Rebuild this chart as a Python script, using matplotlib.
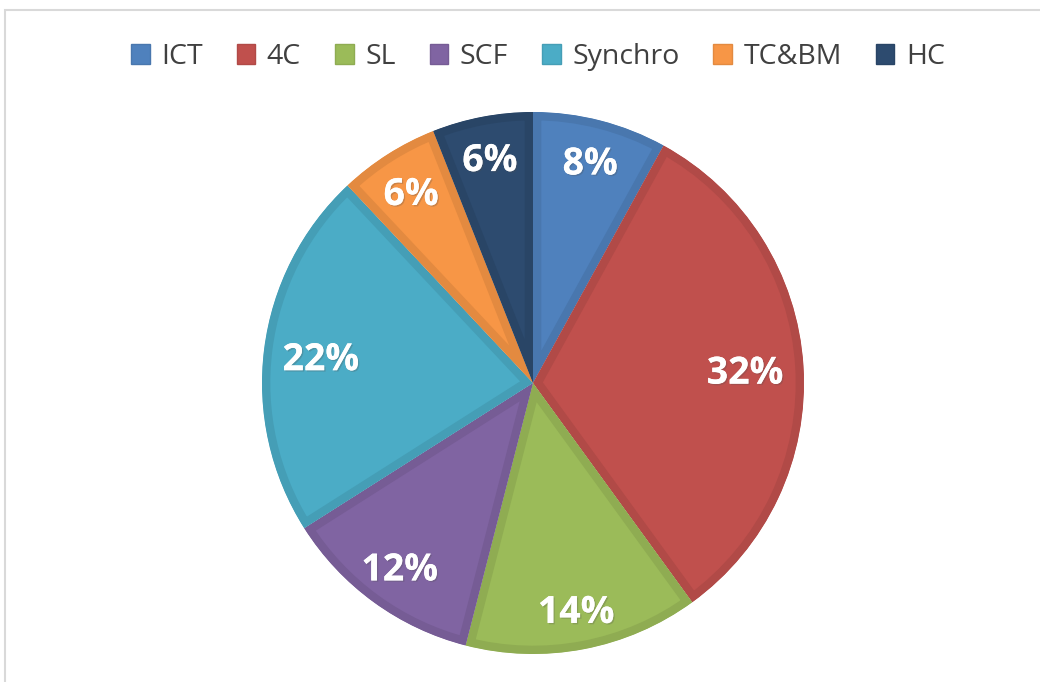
import numpy as np
import matplotlib
matplotlib.use("Agg")
import matplotlib.pyplot as plt
import matplotlib.colors as mcolors
import matplotlib.patches as mpatches
import matplotlib.patheffects as pe
import matplotlib.transforms as mtransforms

# ── Data ─────────────────────────────────────────────────────────────────────
categories = ["ICT", "4C", "SL", "SCF", "Synchro", "TC&BM", "HC"]
shares     = [8, 32, 14, 12, 22, 6, 6]
colors     = ["#4F81BD", "#C0504D", "#9BBB59", "#8064A2",
              "#4BACC6", "#F79646", "#2D4B6F"]


def darker(c, f=0.92):
    r, g, b = mcolors.to_rgb(c)
    return (r * f, g * f, b * f)


W, H, DPI = 1040, 682, 100
fig = plt.figure(figsize=(W / DPI, H / DPI), dpi=DPI)
fig.patch.set_facecolor("white")

# chart frame (light grey, runs off right/bottom)
frame = mpatches.Rectangle((5 / W, -0.1), 1.2, (H - 10) / H + 0.1,
                           transform=fig.transFigure, fill=False,
                           edgecolor="#D9D9D9", linewidth=1.5)
fig.patches.append(frame)

# ── Pie ──────────────────────────────────────────────────────────────────────
cx, cy, R = 533, 383, 271
ax = fig.add_axes([(cx - R) / W, (H - cy - R) / H, 2 * R / W, 2 * R / H])
wedges, _, autotexts = ax.pie(
    shares, colors=colors, startangle=90, counterclock=False,
    radius=1.0, autopct="%d%%", pctdistance=0.81,
    wedgeprops=dict(linewidth=12),
    textprops=dict(color="white", fontsize=27, fontweight="bold",
                   family=["Open Sans", "DejaVu Sans"]))
for w, c in zip(wedges, colors):
    w.set_edgecolor(darker(c))
    w.set_clip_path(w)
    w.set_clip_on(True)

# Excel-style "best fit": labels near top/bottom sit a bit further out
shift = mtransforms.offset_copy(ax.transData, fig=fig, x=0, y=-4, units="dots")
for w, t in zip(wedges, autotexts):
    mid = np.deg2rad((w.theta1 + w.theta2) / 2)
    r_lab = 0.78 + 0.07 * abs(np.sin(mid))
    t.set_position((r_lab * np.cos(mid), r_lab * np.sin(mid)))
    t.set_transform(shift)
    t.set_path_effects([pe.withSimplePatchShadow(offset=(1, -1), alpha=0.25),
                        pe.Normal()])
ax.set_xlim(-1, 1)
ax.set_ylim(-1, 1)
ax.set_aspect("equal")
ax.set_axis_off()

# ── Legend ───────────────────────────────────────────────────────────────────
handles = [mpatches.Patch(facecolor=c, edgecolor=darker(c), label=n)
           for n, c in zip(categories, colors)]
fig.legend(handles=handles, loc="center", bbox_to_anchor=(538 / W, 1 - 57 / H),
           ncol=len(categories), frameon=False, handlelength=0.65,
           handleheight=0.65, handletextpad=0.4, columnspacing=1.2,
           prop=dict(family=["Open Sans", "DejaVu Sans"], size=20.5),
           labelcolor="#404040")

fig.savefig("out.png", dpi=DPI, facecolor="white")
